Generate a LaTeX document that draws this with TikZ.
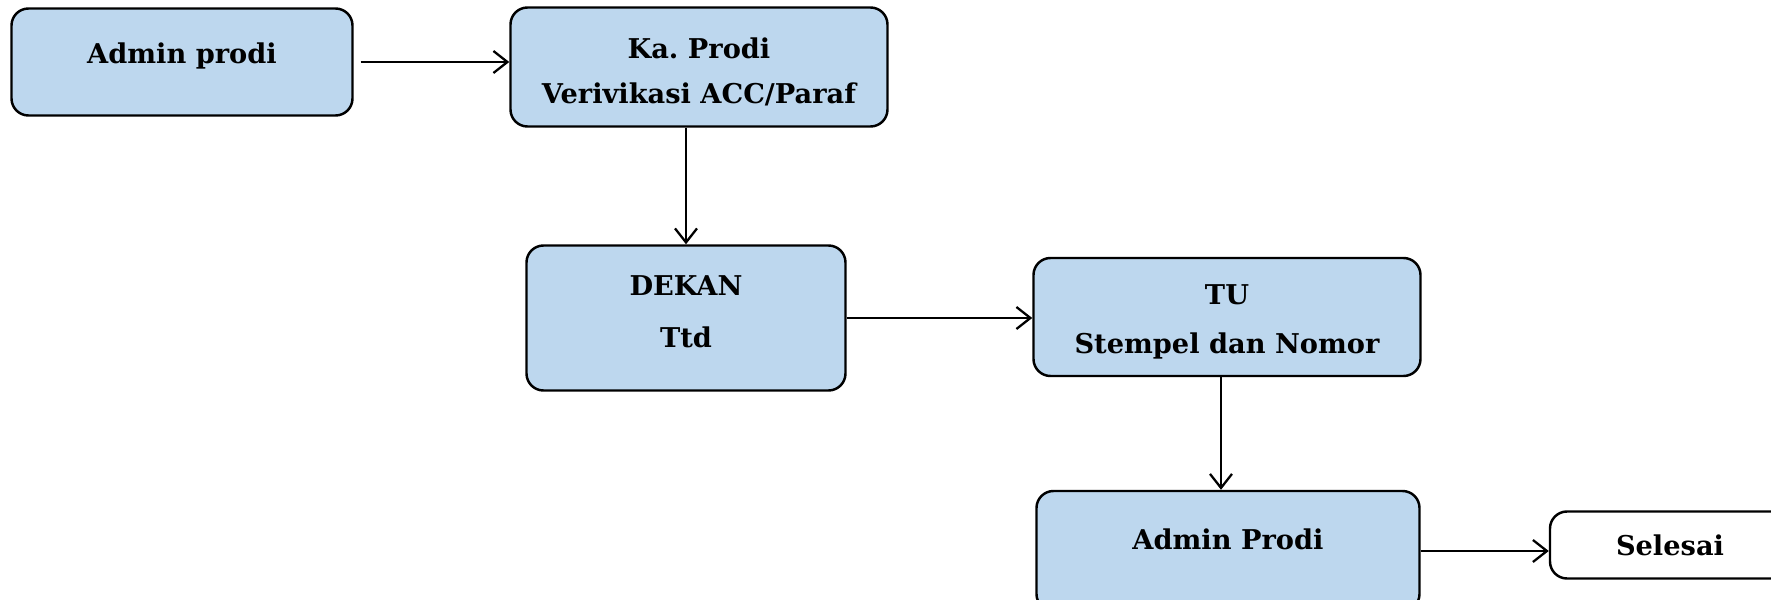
\documentclass[tikz,border=0pt]{standalone}
\usepackage{fontspec}
\setmainfont{DejaVu Serif}
\usetikzlibrary{arrows.meta}

\definecolor{boxblue}{RGB}{189,215,238}
\newcommand{\lowerline}{\rule{0pt}{6mm}}

\begin{document}
\begin{tikzpicture}[
                x=0.2mm, y=-0.2mm,
                stepnode/.style = {rectangle, rounded corners=3.4mm, draw, line width=1.4pt, fill=boxblue, align=center,
                        font=\fontsize{15.5}{#1}\selectfont\bfseries},
                stepnode/.default = 27pt,
                flow/.style = {line width=1.3pt, -{Straight Barb[length=2.8mm, width=4.4mm, line width=1.3pt]}}
        ]
        \useasboundingbox (0,0) rectangle (1771,600);
        \node[stepnode, minimum width=68.2mm, minimum height=21.4mm, text depth=3.5mm] (adminA) at (182,62) {Admin prodi};
        \node[stepnode=25.6pt, minimum width=75.4mm, minimum height=23.8mm] (kaprodi) at (699,67) {\lowerline Ka.\ Prodi\\Verivikasi ACC/Paraf};
        \node[stepnode=29.6pt, minimum width=63.8mm, minimum height=29mm, text depth=2.4mm] (dekan) at (686,318) {DEKAN\\Ttd};
        \node[stepnode=28pt, minimum width=77.4mm, minimum height=23.6mm] (tu) at (1227,317) {\lowerline TU\\Stempel dan Nomor};
        \node[stepnode, minimum width=76.6mm, minimum height=24mm, text depth=4.6mm] (adminB) at (1228,551) {Admin Prodi};
        \node[stepnode, fill=white, minimum width=48mm, minimum height=13.4mm] (selesai) at (1670,545) {Selesai};
        % alur
        \draw[flow] ([xshift=1.4mm]adminA.east) -- (adminA.east -| kaprodi.west);
        \draw[flow] (dekan.north |- kaprodi.south) -- (dekan.north);
        \draw[flow] (dekan.east) -- (dekan.east -| tu.west);
        \draw[flow] ([xshift=-1.2mm]tu.south) -- ([xshift=-1.2mm]tu.south |- adminB.north);
        \draw[flow] (adminB.east) -- (adminB.east -| selesai.west);
\end{tikzpicture}
\end{document}
